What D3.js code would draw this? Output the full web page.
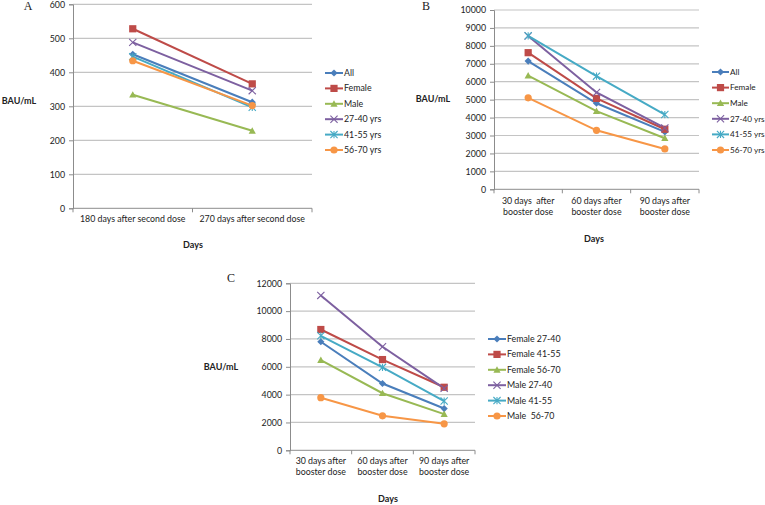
<!DOCTYPE html>
<html><head><meta charset="utf-8">
<script src="https://cdn.jsdelivr.net/npm/d3@7"></script>
<style>
body{margin:0;background:#fff;}
svg text{font-family:Lato,"Open Sans",sans-serif;fill:#222;}
</style></head><body>
<svg id="c" width="765" height="505"></svg>
<script>
// ---- data ----
const catsA = ["180 days after second dose", "270 days after second dose"];
const catsB = ["30 days  after\nbooster dose", "60 days after\nbooster dose", "90 days after\nbooster dose"];
const catsC = ["30 days after\nbooster dose", "60 days after\nbooster dose", "90 days after\nbooster dose"];
const ticksA = [0, 100, 200, 300, 400, 500, 600];
const ticksB = [0, 1000, 2000, 3000, 4000, 5000, 6000, 7000, 8000, 9000, 10000];
const ticksC = [0, 2000, 4000, 6000, 8000, 10000, 12000];
const namesAB = ["All", "Female", "Male", "27-40 yrs", "41-55 yrs", "56-70 yrs"];
const namesC = ["Female 27-40", "Female 41-55", "Female 56-70", "Male 27-40", "Male 41-55", "Male  56-70"];
const valuesA = [
  [453, 312],
  [528, 366],
  [334, 228],
  [488, 346],
  [446, 297],
  [434, 302]
];
const valuesB = [
  [7150, 4800, 3200],
  [7620, 5070, 3350],
  [6340, 4360, 2850],
  [8550, 5400, 3420],
  [8560, 6310, 4170],
  [5100, 3290, 2250]
];
const valuesC = [
  [7800, 4800, 3000],
  [8680, 6520, 4530],
  [6480, 4100, 2600],
  [11130, 7440, 4450],
  [8230, 5960, 3540],
  [3780, 2480, 1900]
];

const colors = ["#4A7EBB", "#BE4B48", "#98B954", "#7D60A0", "#46AAC5", "#F79646"];
const markers = ["diamond", "square", "triangle", "x", "star", "circle"];

const svg = d3.select("#c");
const FS = 8.8;

function drawMarker(g, type, x, y, color) {
  const s = 3.6;
  if (type === "diamond") {
    g.append("path").attr("d", `M${x},${y-s}L${x+s},${y}L${x},${y+s}L${x-s},${y}Z`).attr("fill", color);
  } else if (type === "square") {
    g.append("rect").attr("x", x-s).attr("y", y-s).attr("width", 2*s).attr("height", 2*s).attr("fill", color);
  } else if (type === "triangle") {
    g.append("path").attr("d", `M${x},${y-s}L${x+s},${y+s*0.8}L${x-s},${y+s*0.8}Z`).attr("fill", color);
  } else if (type === "x") {
    g.append("path").attr("d", `M${x-s},${y-s}L${x+s},${y+s}M${x-s},${y+s}L${x+s},${y-s}`).attr("stroke", color).attr("stroke-width", 1.1);
  } else if (type === "star") {
    g.append("path").attr("d", `M${x-s},${y-s}L${x+s},${y+s}M${x-s},${y+s}L${x+s},${y-s}M${x},${y-s}L${x},${y+s}`).attr("stroke", color).attr("stroke-width", 1.1);
  } else {
    g.append("circle").attr("cx", x).attr("cy", y).attr("r", s).attr("fill", color);
  }
}

function panel(cfg) {
  const g = svg.append("g");
  const x = d3.scaleBand().domain(cfg.cats).range([cfg.x0, cfg.x1]);
  const y = d3.scaleLinear().domain([0, cfg.ticks[cfg.ticks.length-1]]).range([cfg.yBot, cfg.yTop]);
  // gridlines
  g.selectAll(".grid").data(cfg.ticks.slice(1)).join("line")
    .attr("x1", cfg.x0).attr("x2", cfg.x1)
    .attr("y1", d => y(d)).attr("y2", d => y(d))
    .attr("stroke", "#C4C4C4").attr("stroke-width", 1.2);
  // y axis
  const ya = g.append("g").attr("transform", `translate(${cfg.x0},0)`)
    .call(d3.axisLeft(y).tickValues(cfg.ticks).tickSize(4).tickPadding(4).tickFormat(d3.format("d")));
  ya.select(".domain").attr("stroke", "#8C8C8C");
  ya.selectAll(".tick line").attr("stroke", "#8C8C8C");
  ya.selectAll("text").attr("font-size", FS).attr("fill", "#222").style("font-family", "Lato,sans-serif");
  // x axis
  const xa = g.append("g").attr("transform", `translate(0,${cfg.yBot})`)
    .call(d3.axisBottom(x).tickSize(0).tickFormat(""));
  xa.select(".domain").attr("stroke", "#8C8C8C").attr("d", `M${cfg.x0},0H${cfg.x1}`);
  const edges = cfg.cats.map(c => x(c)).concat([cfg.x1]);
  g.selectAll(".xt").data(edges).join("line")
    .attr("x1", d => d).attr("x2", d => d).attr("y1", cfg.yBot).attr("y2", cfg.yBot + 4)
    .attr("stroke", "#8C8C8C");
  // category labels
  cfg.cats.forEach(c => {
    const lines = c.split("\n");
    const t = g.append("text").attr("text-anchor", "middle").attr("font-size", FS).style("white-space", "pre");
    lines.forEach((l, i) => {
      t.append("tspan").attr("x", x(c) + x.bandwidth()/2).attr("y", cfg.catY + i*10.5).text(l);
    });
  });
  // series
  cfg.values.forEach((vals, si) => {
    const pts = vals.map((v, i) => [x(cfg.cats[i]) + x.bandwidth()/2, y(v)]);
    g.append("path").attr("d", d3.line()(pts)).attr("fill", "none")
      .attr("stroke", colors[si]).attr("stroke-width", 2);
  });
  cfg.values.forEach((vals, si) => {
    vals.forEach((v, i) => drawMarker(g, markers[si], x(cfg.cats[i]) + x.bandwidth()/2, y(v), colors[si]));
  });
  // legend
  cfg.names.forEach((n, i) => {
    const ly = cfg.legY + i*cfg.legStep;
    g.append("line").attr("x1", cfg.legX).attr("x2", cfg.legX + cfg.legW).attr("y1", ly).attr("y2", ly)
      .attr("stroke", colors[i]).attr("stroke-width", 2);
    drawMarker(g, markers[i], cfg.legX + cfg.legW/2, ly, colors[i]);
    g.append("text").attr("x", cfg.legX + cfg.legW + 1).attr("y", ly).attr("dy", "0.35em")
      .attr("font-size", cfg.legFS).style("white-space", "pre").text(n);
  });
  // labels
  g.append("text").attr("x", cfg.bauX).attr("y", cfg.bauY).attr("dy", "0.35em").attr("text-anchor", "middle")
    .attr("font-size", 9).attr("font-weight", "bold").text("BAU/mL");
  g.append("text").attr("x", cfg.daysX).attr("y", cfg.daysY).attr("dy", "0.35em").attr("text-anchor", "middle")
    .attr("font-size", 9).attr("font-weight", "bold").text("Days");
  g.append("text").attr("x", cfg.letX).attr("y", cfg.letY).attr("dy", "0.35em").attr("text-anchor", "middle")
    .attr("font-size", 12).style("font-family", "'Liberation Serif','DejaVu Serif',serif").text(cfg.letter);
}

panel({cats: catsA, ticks: ticksA, values: valuesA, names: namesAB,
  x0: 73, x1: 312, yTop: 4.3, yBot: 208.3, catY: 222,
  legX: 325, legW: 18, legY: 73, legStep: 15.4, legFS: FS,
  bauX: 19, bauY: 101, daysX: 193, daysY: 245, letX: 28, letY: 6, letter: "A"});
panel({cats: catsB, ticks: ticksB, values: valuesB, names: namesAB,
  x0: 494, x1: 699, yTop: 10, yBot: 189.3, catY: 204,
  legX: 712, legW: 17, legY: 72, legStep: 15.6, legFS: 8.2,
  bauX: 433, bauY: 99, daysX: 594, daysY: 239, letX: 426, letY: 6, letter: "B"});
panel({cats: catsC, ticks: ticksC, values: valuesC, names: namesC,
  x0: 290, x1: 475, yTop: 283.3, yBot: 450.3, catY: 464,
  legX: 488, legW: 18, legY: 339, legStep: 15.4, legFS: FS,
  bauX: 221, bauY: 366.5, daysX: 388, daysY: 499, letX: 231, letY: 278, letter: "C"});
</script>
</body></html>
